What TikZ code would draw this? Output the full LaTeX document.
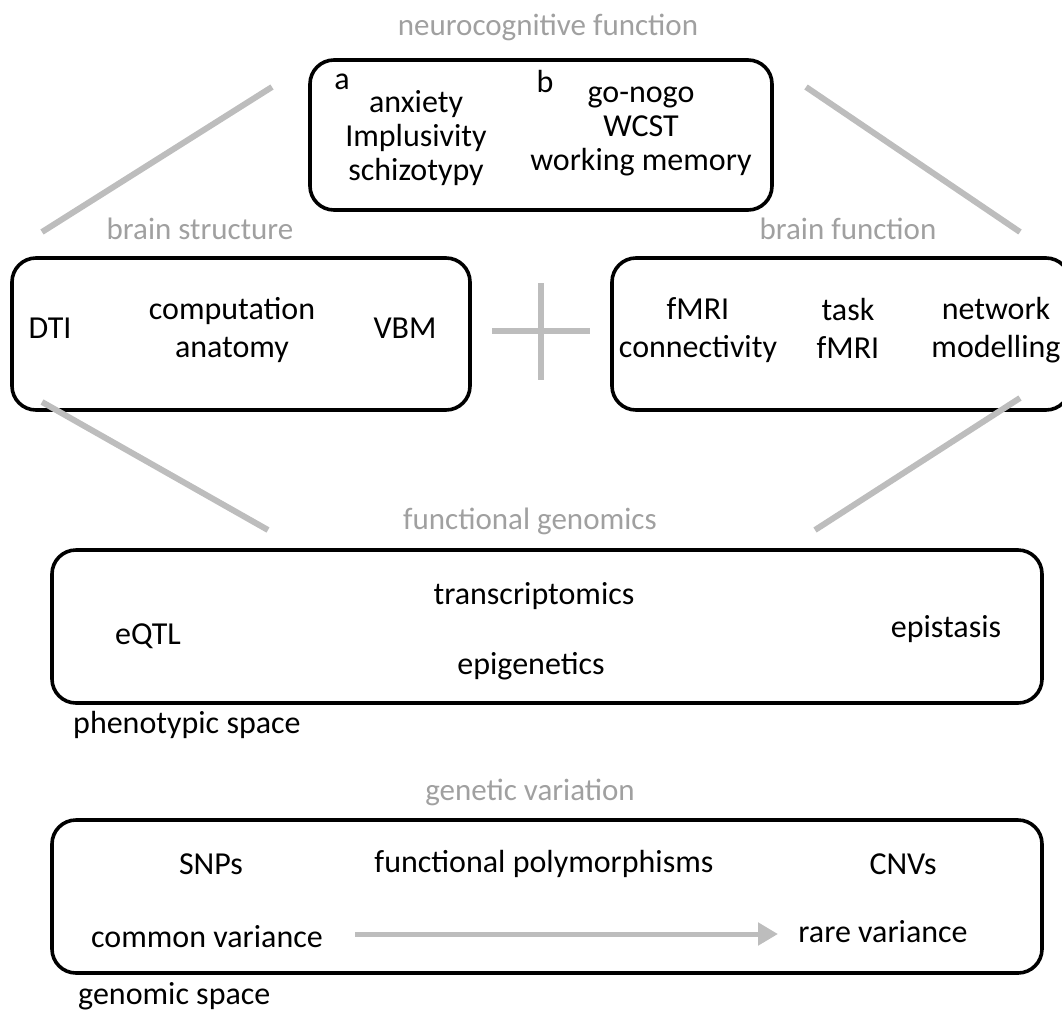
\documentclass[tikz,border=0pt]{standalone}
\usepackage{fontspec}
\setmainfont{Carlito}
\usetikzlibrary{arrows.meta,calc}
\definecolor{linegray}{HTML}{BDBDBD}
\definecolor{labgray}{HTML}{A0A0A0}
\begin{document}
\begin{tikzpicture}[x=1pt,y=-1pt,
  box/.style={draw=black,line width=3.6pt,rounded corners=24pt},
  glink/.style={draw=linegray,line width=6pt},
  glab/.style={text=labgray,font=\fontsize{31}{34}\selectfont,inner sep=0pt},
  txt/.style={text=black,font=\fontsize{32}{34}\selectfont,inner sep=0pt,align=center},
  txtw/.style={txt,font=\fontsize{32}{38}\selectfont},
  every node/.append style={inner sep=0pt}]
\useasboundingbox (0,0) rectangle (1062,1012);
% boxes
\draw[box] (310,60) rectangle (772,210);
\draw[box] (12,258) rectangle (470,410);
\draw[box] (612,258) rectangle (1070,410);
\draw[box] (52,550) rectangle (1042,703);
\draw[box] (52,820) rectangle (1042,973);
% gray labels
\node[glab] (lneuro) at (548,27) {neurocognitive function};
\node[glab] (lstruct) at (200,229) {brain structure};
\node[glab] (lfunc) at (848,229) {brain function};
\node[glab] (lgenom) at (530,521) {functional genomics};
\node[glab] (lgenet) at (530,792) {genetic variation};
% gray connectors
\coordinate (c1a) at (272,87); \coordinate (c1b) at (42,232);
\coordinate (c2a) at (806,87); \coordinate (c2b) at (1020,232);
\coordinate (c3a) at (42,402); \coordinate (c3b) at (268,530);
\coordinate (c4a) at (1020,398); \coordinate (c4b) at (815,530);
\coordinate (ph) at (492,331); \coordinate (phe) at (590,331);
\coordinate (pv) at (541,283); \coordinate (pve) at (541,380);
\draw[glink] (c1a) -- (c1b);
\draw[glink] (c2a) -- (c2b);
\draw[glink] (c3a) -- (c3b);
\draw[glink] (c4a) -- (c4b);
\draw[glink] (ph) -- (phe);
\draw[glink] (pv) -- (pve);
% top box
\node[txt] (ta) at (342,82) {a};
\node[txt] (tb) at (545,81) {b};
\node[txt] (t1) at (416,138) {anxiety\\Implusivity\\schizotypy};
\node[txt] (t2) at (641,131) {go-nogo\\WCST\\working memory};
% brain structure
\node[txt] (dti) at (50,328) {DTI};
\node[txtw] (comp) at (232,330) {computation\\anatomy};
\node[txt] (vbm) at (405,328) {VBM};
% brain function
\node[txtw] (fmri) at (698,330) {fMRI\\connectivity};
\node[txtw] (task) at (848,328) {task\\fMRI};
\node[txtw] (net) at (996,330) {network\\modelling};
% functional genomics
\node[txt] (trans) at (534,596) {transcriptomics};
\node[txt] (eqtl) at (148,636) {eQTL};
\node[txt] (epis) at (946,629) {epistasis};
\node[txt] (epig) at (531,666) {epigenetics};
\node[txt,anchor=west] (pheno) at (73,725) {phenotypic space};
% genetic variation
\node[txt] (snp) at (211,864) {SNPs};
\node[txt] (fpoly) at (544,864) {functional polymorphisms};
\node[txt] (cnv) at (903,864) {CNVs};
\node[txt] (common) at (207,937) {common variance};
\node[txt] (rare) at (883,932) {rare variance};
\node[txt,anchor=west] (genspace) at (78,996) {genomic space};
\coordinate (arrS) at (355,934);
\coordinate (arrE) at (778,934);
\draw[draw=linegray,line width=5pt,-{Triangle[length=20pt,width=22pt]}] (arrS) -- (arrE);
\end{tikzpicture}
\end{document}
